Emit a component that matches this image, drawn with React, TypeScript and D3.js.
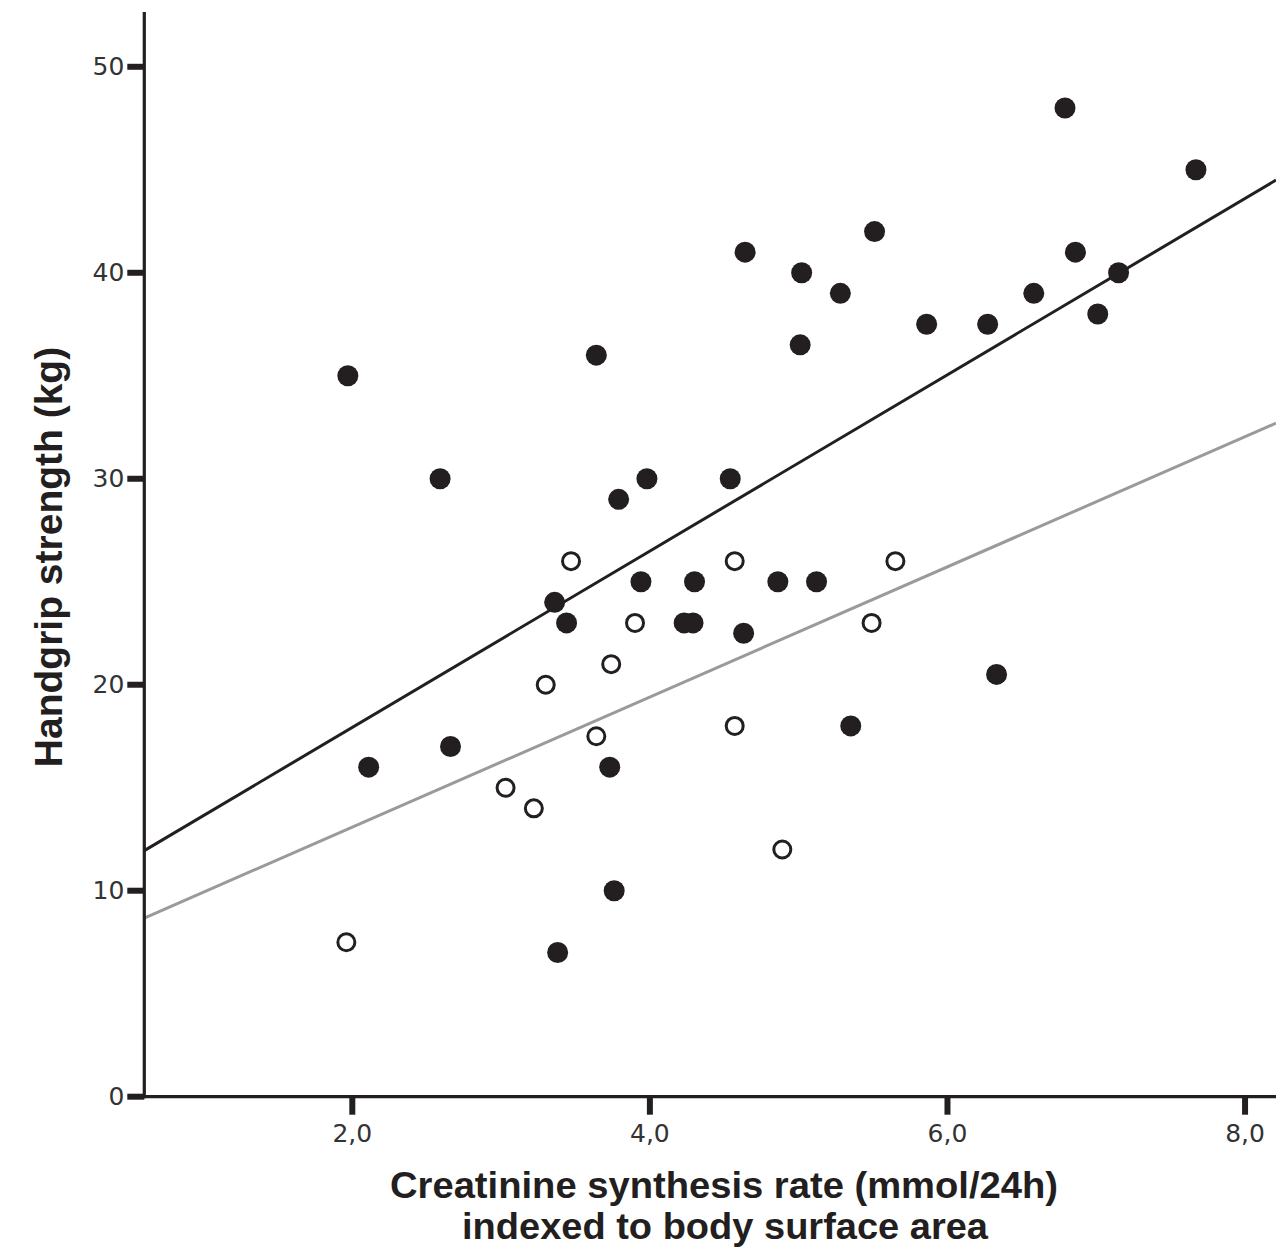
import React from "react";
import * as d3 from "d3";

// Filled markers (x: creatinine synthesis rate, y: handgrip strength)
const filledX = [1.97, 2.11, 2.59, 2.66, 3.36, 3.44, 3.38, 3.64, 3.79, 3.73, 3.76, 3.98, 3.94, 4.23, 4.29, 4.30, 4.54, 4.64, 4.63, 4.86, 5.02, 5.01, 5.12, 5.28, 5.35, 5.51, 5.86, 6.27, 6.33, 6.58, 6.79, 6.86, 7.01, 7.15, 7.67];
const filledY = [35.0, 16.0, 30.0, 17.0, 24.0, 23.0, 7.0, 36.0, 29.0, 16.0, 10.0, 30.0, 25.0, 23.0, 23.0, 25.0, 30.0, 41.0, 22.5, 25.0, 40.0, 36.5, 25.0, 39.0, 18.0, 42.0, 37.5, 37.5, 20.5, 39.0, 48.0, 41.0, 38.0, 40.0, 45.0];

// Open markers
const openX = [1.96, 3.03, 3.22, 3.30, 3.47, 3.64, 3.74, 3.90, 4.57, 4.57, 4.89, 5.49, 5.65];
const openY = [7.5, 15.0, 14.0, 20.0, 26.0, 17.5, 21.0, 23.0, 26.0, 18.0, 12.0, 23.0, 26.0];

// Regression lines: [intercept, slope]
const lineBlack = [9.37, 4.28];
const lineGray = [6.77, 3.159];

const xTicks = [2, 4, 6, 8];
const yTicks = [0, 10, 20, 30, 40, 50];
const xLabel1 = "Creatinine synthesis rate (mmol/24h)";
const xLabel2 = "indexed to body surface area";
const yLabel = "Handgrip strength (kg)";

const W = 1276;
const H = 1247;
const X0 = 144.3;
const X1 = 1276;
const Y0 = 1096.7;
const YTOP = 12;

export default function App() {
  const x = d3.scaleLinear().domain([0.602, 8.208]).range([X0, X1]);
  const y = d3.scaleLinear().domain([0, 52.66]).range([Y0, YTOP]);
  const [xmin, xmax] = x.domain();
  const fmt = (v: number) => d3.format(".1f")(v).replace(".", ",");
  const mkLine = (c: number[]) =>
    d3.line<number>().x((d) => x(d)).y((d) => y(c[0] + c[1] * d))([xmin, xmax]) || "";
  const dark = "#231f20";
  const tickFont = "'DejaVu Sans', sans-serif";
  const labelFont = "'Liberation Sans', Arial, sans-serif";

  return (
    <svg
      width={W}
      height={H}
      style={{ position: "absolute", left: 0, top: 0, background: "#fff" }}
    >
      <rect x={0} y={0} width={W} height={H} fill="#fff" />
      {/* regression lines */}
      <path d={mkLine(lineGray)} stroke="#9a9a9a" strokeWidth={3} fill="none" />
      <path d={mkLine(lineBlack)} stroke={dark} strokeWidth={3} fill="none" />

      {/* axes */}
      <line x1={X0} x2={X0} y1={YTOP} y2={Y0 + 1.5} stroke={dark} strokeWidth={3.2} />
      <line x1={X0 - 1.5} x2={X1} y1={Y0} y2={Y0} stroke={dark} strokeWidth={3.2} />
      {yTicks.map((t) => (
        <g key={"yt" + t}>
          <line x1={X0 - 17} x2={X0} y1={y(t)} y2={y(t)} stroke={dark} strokeWidth={6} />
          <text
            x={X0 - 20}
            y={y(t)}
            textAnchor="end"
            dominantBaseline="central"
            fontFamily={tickFont}
            fontSize={25}
            fill="#333"
          >
            {t}
          </text>
        </g>
      ))}
      {xTicks.map((t) => (
        <g key={"xt" + t}>
          <line x1={x(t)} x2={x(t)} y1={Y0} y2={Y0 + 18} stroke={dark} strokeWidth={6} />
          <text
            x={x(t)}
            y={1142}
            textAnchor="middle"
            fontFamily={tickFont}
            fontSize={25}
            fill="#333"
          >
            {fmt(t)}
          </text>
        </g>
      ))}

      {/* points */}
      {filledX.map((v, i) => (
        <circle key={"f" + i} cx={x(v)} cy={y(filledY[i])} r={10.5} fill={dark} />
      ))}
      {openX.map((v, i) => (
        <circle
          key={"o" + i}
          cx={x(v)}
          cy={y(openY[i])}
          r={8.5}
          fill="#fff"
          stroke={dark}
          strokeWidth={3}
        />
      ))}

      {/* labels */}
      <text
        x={724}
        y={1198}
        textAnchor="middle"
        fontFamily={labelFont}
        fontWeight="bold"
        fontSize={36.5}
        textLength={668}
        lengthAdjust="spacingAndGlyphs"
        fill={dark}
      >
        {xLabel1}
      </text>
      <text
        x={725}
        y={1239}
        textAnchor="middle"
        fontFamily={labelFont}
        fontWeight="bold"
        fontSize={36.5}
        textLength={526}
        lengthAdjust="spacingAndGlyphs"
        fill={dark}
      >
        {xLabel2}
      </text>
      <text
        transform={`translate(62,557) rotate(-90)`}
        textAnchor="middle"
        fontFamily={labelFont}
        fontWeight="bold"
        fontSize={39}
        fill={dark}
      >
        {yLabel}
      </text>
    </svg>
  );
}
